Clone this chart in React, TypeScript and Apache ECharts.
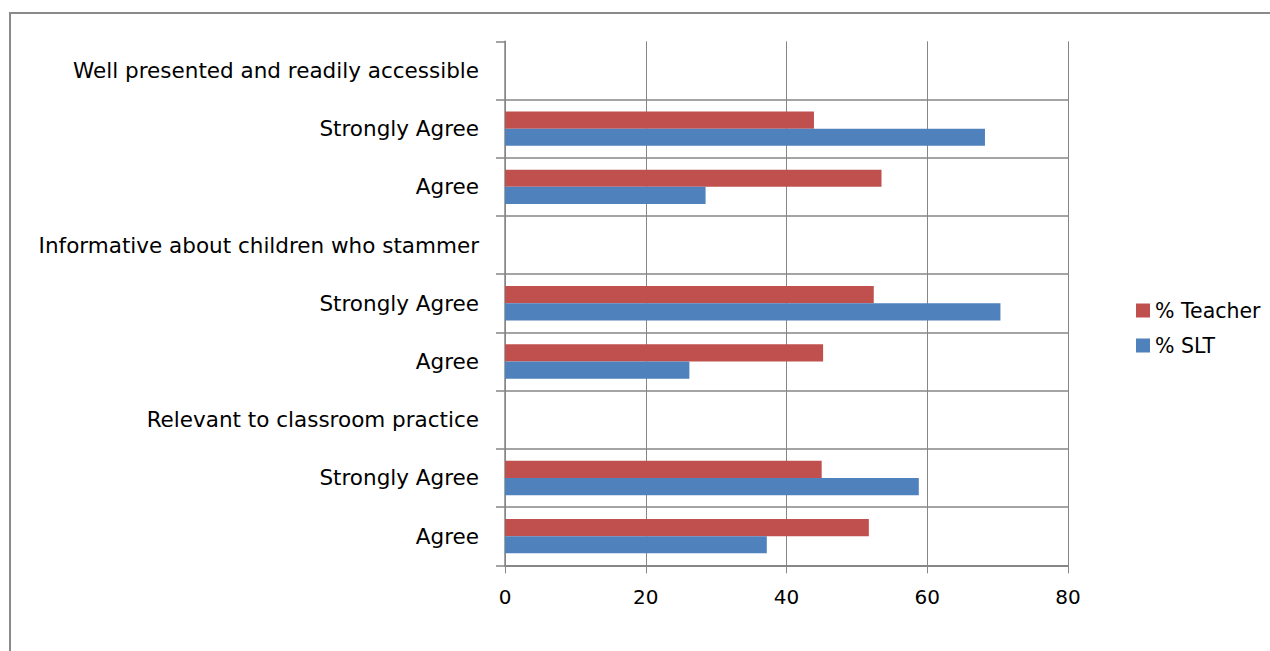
import React, { useEffect, useRef } from "react";
import * as echarts from "echarts";

// Category rows, listed bottom to top
const categories = [
  "Agree",
  "Strongly Agree",
  "Relevant to classroom practice",
  "Agree",
  "Strongly Agree",
  "Informative about children who stammer",
  "Agree",
  "Strongly Agree",
  "Well presented and readily accessible",
];

const teacherPct = [51.7, 45.0, null, 45.2, 52.4, null, 53.5, 43.9, null];
const sltPct = [37.2, 58.8, null, 26.2, 70.4, null, 28.5, 68.2, null];

const xTicks = [0, 20, 40, 60, 80];

const FONT = "DejaVu Sans";
const GRID_GREY = "#868686";

export default function App() {
  const ref = useRef<HTMLDivElement>(null);

  useEffect(() => {
    document.body.style.margin = "0";
    const chart = echarts.init(ref.current!, null, { renderer: "svg" });
    chart.setOption({
      animation: false,
      backgroundColor: "#ffffff",
      textStyle: { fontFamily: FONT },
      graphic: [
        {
          type: "rect",
          shape: { x: 10, y: 13, width: 1400, height: 800 },
          style: { fill: "none", stroke: "#8a8a8a", lineWidth: 2 },
          silent: true,
        },
      ],
      grid: { left: 505, right: 202, top: 41.3, bottom: 85.7, containLabel: false },
      legend: {
        orient: "vertical",
        left: 1131,
        top: 295,
        itemWidth: 14,
        itemHeight: 14,
        itemGap: 14,
        icon: "rect",
        data: ["% Teacher", "% SLT"],
        textStyle: { fontFamily: FONT, fontSize: 20.5, color: "#000" },
      },
      xAxis: {
        type: "value",
        min: xTicks[0],
        max: xTicks[xTicks.length - 1],
        interval: 20,
        axisLine: { show: true, lineStyle: { color: GRID_GREY, width: 2 } },
        axisTick: { show: true, length: 8, lineStyle: { color: GRID_GREY, width: 1 } },
        axisLabel: { fontFamily: FONT, fontSize: 20, color: "#000", margin: 22 },
        splitLine: { show: true, lineStyle: { color: GRID_GREY, width: 1 } },
      },
      yAxis: {
        type: "category",
        data: categories,
        axisLine: { show: true, lineStyle: { color: GRID_GREY, width: 1.5 } },
        axisTick: { show: true, length: 9, lineStyle: { color: GRID_GREY, width: 1.5 } },
        axisLabel: { fontFamily: FONT, fontSize: 21.5, color: "#000", margin: 26 },
        splitLine: {
          show: true,
          showMaxLine: false,
          lineStyle: { color: GRID_GREY, width: 1.5 },
        },
      },
      series: [
        {
          name: "% Teacher",
          type: "bar",
          data: teacherPct,
          itemStyle: { color: "#C0504D" },
          barGap: "0%",
          barCategoryGap: "41%",
        },
        {
          name: "% SLT",
          type: "bar",
          data: sltPct,
          itemStyle: { color: "#4F81BD" },
          barGap: "0%",
          barCategoryGap: "41%",
        },
      ],
    });
    return () => chart.dispose();
  }, []);

  return <div ref={ref} style={{ width: 1270, height: 651 }} />;
}
